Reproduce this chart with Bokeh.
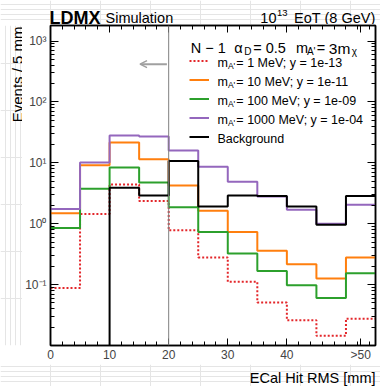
import math
from bokeh.plotting import figure
from bokeh.layouts import column, row
from bokeh.models import (FixedTicker, LinearAxis, LogAxis, Label, Span, Arrow, OpenHead,
                          Legend, LegendItem, BasicTickFormatter, Range1d)
from bokeh.embed import file_html
from bokeh.resources import INLINE

# ---------------- data ----------------
bin_edges = [0, 5, 10, 15, 20, 25, 30, 35, 40, 45, 50, 55]
sig_1MeV = [0.088, 1.45, 4.4, 2.37, 0.78, 0.28, 0.111, 0.051, 0.026, 0.0144, 0.0275]
sig_10MeV = [1.49, 9.1, 21.5, 11.4, 4.26, 1.63, 0.73, 0.36, 0.215, 0.126, 0.28]
sig_100MeV = [0.85, 3.76, 8.4, 4.77, 1.87, 0.73, 0.325, 0.168, 0.098, 0.060, 0.154]
sig_1000MeV = [1.75, 10.1, 28.0, 27.0, 16.0, 8.6, 4.9, 2.8, 1.69, 1.0, 2.04]
background = [0, 0, 3.9, 2.9, 10.7, 1.92, 2.9, 2.85, 1.92, 0.96, 2.85]

series_masses = ["1", "10", "100", "1000"]
series_couplings = ["1e-13", "1e-11", "1e-09", "1e-04"]
series_colors = ["#e3262a", "#ff7f0e", "#2ca02c", "#9467bd"]

x_major_ticks = [0, 10, 20, 30, 40, 52.5]
x_tick_labels = ["0", "10", "20", "30", "40", ">50"]
y_major_ticks = [0.1, 1, 10, 100, 1000]
y_tick_labels = ["10\u207b\u00b9", "10\u2070", "10\u00b9", "10\u00b2", "10\u00b3"]
cut_value = 20

FONT = "Liberation Sans"

# ---------------- layout (screen px) ----------------
W, H = 380, 386
XL, XR, YT, YB = 48.0, 375.0, 25.0, 348.0
HEAD_H, LEFT_W = 24, 22
TOP_B, BOT_B = int(YT) - HEAD_H, 16
MAIN_H = TOP_B + int(YB - YT) + BOT_B      # 340
FOOT_H = H - HEAD_H - MAIN_H               # 22
MAIN_W = W - LEFT_W                        # 358
X_RANGE = (0, 55)
Y_RANGE = (0.01, 10 ** 3.255)
LY0, LY1 = math.log10(Y_RANGE[0]), math.log10(Y_RANGE[1])


def xd(px):
    return X_RANGE[0] + (px - XL) * (X_RANGE[1] - X_RANGE[0]) / (XR - XL)


def yd(py):
    return 10 ** (LY0 + (YB - py) * (LY1 - LY0) / (YB - YT))


p = figure(width=MAIN_W, height=MAIN_H, x_range=X_RANGE, y_range=Y_RANGE, y_axis_type="log",
           output_backend="svg", toolbar_location=None, title=None,
           min_border_left=int(XL) - LEFT_W, min_border_right=W - int(XR),
           min_border_top=TOP_B, min_border_bottom=BOT_B)
p.grid.visible = False
p.outline_line_color = "black"
p.outline_line_width = 1.5
p.background_fill_color = "white"
p.border_fill_color = "white"

x_minor = [t for t in range(0, 56, 2) if t not in x_major_ticks]
y_minor = [m * 10.0 ** e for e in range(-2, 4) for m in range(2, 10)]


def style_axis(ax, major, minor):
    ax.major_tick_in = major
    ax.major_tick_out = 0
    ax.minor_tick_in = minor
    ax.minor_tick_out = 0
    ax.axis_line_width = 1.5
    ax.axis_line_color = "black"
    ax.major_tick_line_color = "black"
    ax.minor_tick_line_color = "black"


xa = p.xaxis[0]
xa.ticker = FixedTicker(ticks=x_major_ticks, minor_ticks=x_minor)
xa.formatter = BasicTickFormatter(precision=0)
xa.major_label_overrides = dict(zip(x_major_ticks, x_tick_labels))
xa.major_label_text_font = FONT
xa.major_label_text_font_size = "12px"
xa.major_label_standoff = 2
style_axis(xa, 7, 4)

ya = p.yaxis[0]
ya.ticker = FixedTicker(ticks=y_major_ticks, minor_ticks=y_minor)
ya.major_label_overrides = dict(zip(y_major_ticks, y_tick_labels))
ya.major_label_text_font = FONT
ya.major_label_text_font_size = "12px"
ya.major_label_standoff = 4
style_axis(ya, 8, 4)

top_ax = LinearAxis(ticker=FixedTicker(ticks=x_major_ticks, minor_ticks=x_minor),
                    major_label_text_font_size="0px", major_label_standoff=0)
style_axis(top_ax, 7, 4)
top_ax.major_label_overrides = {t: "" for t in x_major_ticks}
p.add_layout(top_ax, "above")

right_ax = LogAxis(ticker=FixedTicker(ticks=y_major_ticks, minor_ticks=y_minor),
                   major_label_text_font_size="0px", major_label_standoff=0)
style_axis(right_ax, 8, 4)
right_ax.major_label_overrides = {t: "" for t in y_major_ticks}
p.add_layout(right_ax, "right")

# ---------------- histograms ----------------
floor = Y_RANGE[0] / 10.0


def step_vals(vals):
    v = [x if x > 0 else floor for x in vals]
    return v + [v[-1]]


renderers = []
for vals, col, dash in zip([sig_1MeV, sig_10MeV, sig_100MeV, sig_1000MeV], series_colors,
                           ["2 2", "solid", "solid", "solid"]):
    r = p.step(x=bin_edges, y=step_vals(vals), mode="after", line_color=col, line_width=2,
               line_dash=dash)
    renderers.append(r)
rb = p.step(x=bin_edges, y=step_vals(background), mode="after", line_color="black", line_width=2)
renderers.append(rb)

# cut line + arrow
p.add_layout(Span(location=cut_value, dimension="height", line_color="#808080", line_width=1))
p.add_layout(Arrow(end=OpenHead(size=7, line_color="#a0a0a0", line_width=1.5),
                   x_start=cut_value - 0.3, x_end=cut_value - 4.85, y_start=yd(64), y_end=yd(64),
                   line_color="#a0a0a0", line_width=2))

# legend samples
legend = Legend(items=[LegendItem(label=" ", renderers=[r]) for r in renderers],
                location=(139, 199), glyph_width=20, glyph_height=19, label_height=19,
                label_width=0, label_standoff=0, spacing=0, padding=0, margin=0,
                label_text_font_size="1px", border_line_alpha=0, background_fill_alpha=0)
p.add_layout(legend)


def lab(fig, x, y, text, size, align="left", baseline="alphabetic", style="normal", angle=0.0):
    fig.add_layout(Label(x=x, y=y, text=text, text_font=FONT, text_font_size=f"{size}px",
                         text_align=align, text_baseline=baseline, text_font_style=style,
                         text_color="black", angle=angle))


def mlab(px, py, *args, **kw):
    lab(p, xd(px), yd(py), *args, **kw)


# model line
mlab(189, 48, "N \u2212 1", 14.5)
mlab(233, 48, "\u03b1", 14.5)
mlab(243, 51, "D", 10)
mlab(252, 48, "= 0.5", 14.5)
mlab(295, 48, "m", 14.5)
mlab(306, 51, "A'", 10)
mlab(316, 48, "=", 14.5)
mlab(328, 48, "3m", 15.5)
mlab(351, 51, "\u03c7", 10)

# legend texts
row_y = [63.3, 82.3, 101.3, 120.3, 139.3]
for i, (m, c) in enumerate(zip(series_masses, series_couplings)):
    mlab(216, row_y[i], "m", 12.5, baseline="middle")
    mlab(226.5, row_y[i] + 3, "A'", 8.5, baseline="middle")
    mlab(235, row_y[i], f"= {m} MeV; y = {c}", 12.5, baseline="middle")
mlab(216, row_y[4], "Background", 12.5, baseline="middle")


# ---------------- text panels (pixel coordinates, y measured from the panel top) ----------------
def text_fig(w, h):
    f = figure(width=w, height=h, x_range=Range1d(0, w), y_range=Range1d(0, h),
               output_backend="svg", toolbar_location=None, title=None,
               x_axis_location=None, y_axis_location=None,
               min_border_left=0, min_border_right=0, min_border_top=0, min_border_bottom=0)
    f.outline_line_color = None
    f.background_fill_color = "white"
    f.border_fill_color = "white"
    return f


def plab(fig, h, px, py_top, *args, **kw):
    lab(fig, px, h - py_top, *args, **kw)


head = text_fig(W, HEAD_H)
plab(head, HEAD_H, 49, 17.5, "LDMX", 18, style="bold")
plab(head, HEAD_H, 105, 17.5, "Simulation", 14.5)
plab(head, HEAD_H, 375, 17.5, "EoT (8 GeV)", 14.5, align="right")
plab(head, HEAD_H, 287, 12.5, "13", 9.5, align="right")
plab(head, HEAD_H, 276, 17.5, "10", 14.5, align="right")

left = text_fig(LEFT_W, MAIN_H)
plab(left, MAIN_H, 17, 1, "Events / 5 mm", 15, align="right", angle=math.pi / 2)

foot = text_fig(W, FOOT_H)
plab(foot, FOOT_H, 375, 377 - HEAD_H - MAIN_H, "ECal Hit RMS [mm]", 14.5, align="right")

layout = column(head, row(left, p, spacing=0), foot, spacing=0)

open("out.html", "w").write(file_html(layout, INLINE))
